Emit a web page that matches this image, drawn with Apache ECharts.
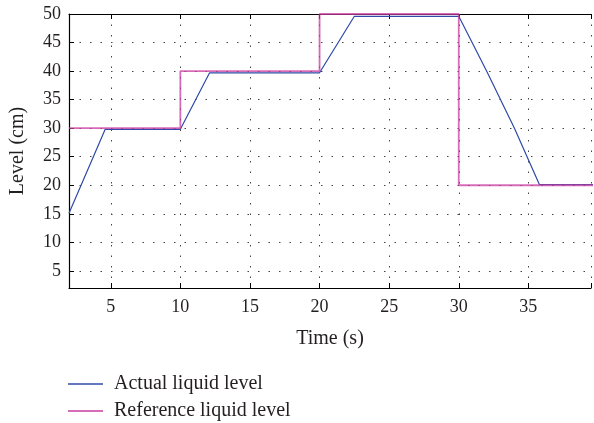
<!DOCTYPE html>
<html>
<head>
<meta charset="utf-8">
<script src="https://cdn.jsdelivr.net/npm/echarts@6/dist/echarts.min.js"></script>
<style>
  html, body { margin: 0; padding: 0; background: #fff; }
  #chart { width: 594px; height: 423px; }
</style>
</head>
<body>
<div id="chart"></div>
<script>
// Measured tank level (cm) over time (s)
const actualTime  = [2.0, 4.6, 10.0, 12.1, 20.0, 22.5, 30.0, 32.0, 34.0, 35.8, 40.0];
const actualLevel = [15.1, 29.8, 29.8, 39.7, 39.7, 49.6, 49.6, 40.0, 30.0, 20.1, 20.1];

// Set-point (step reference) level (cm) over time (s)
const refTime  = [2, 10, 10, 20, 20, 30, 30, 40];
const refLevel = [30, 30, 40, 40, 50, 50, 20, 20];

const seriesNames = ['Actual liquid level', 'Reference liquid level'];
const xTickLabels = [5, 10, 15, 20, 25, 30, 35];
const yTickLabels = [5, 10, 15, 20, 25, 30, 35, 40, 45, 50];

const FONT = '"Liberation Serif", "Times New Roman", serif';
const TEXT = '#231f20';

const pairs = (xs, ys) => xs.map((x, i) => [x, ys[i]]);
const gridDots = { type: [1.5, 9], color: '#444', width: 1 };

const chart = echarts.init(document.getElementById('chart'), null, { renderer: 'canvas' });
chart.setOption({
  animation: false,
  backgroundColor: '#fff',
  grid: { left: 67, top: 14, right: 0, bottom: 135 },
  legend: {
    left: 68, top: 374, orient: 'vertical',
    icon: 'rect', itemWidth: 35, itemHeight: 1.5, itemGap: 7, padding: 0,
    textStyle: { fontFamily: FONT, fontSize: 20, color: TEXT, padding: [0, 0, 0, 6] },
    data: seriesNames
  },
  xAxis: [{
    type: 'value', min: 2, max: 39.5, splitNumber: 8,
    name: 'Time (s)', nameLocation: 'middle', nameGap: 41,
    nameTextStyle: { fontFamily: FONT, fontSize: 20, color: TEXT },
    axisLine: { onZero: false, lineStyle: { color: '#000', width: 1.2 } },
    axisTick: { inside: true, length: 5, lineStyle: { color: '#000' } },
    axisLabel: {
      fontFamily: FONT, fontSize: 18, color: TEXT, margin: 10,
      formatter: v => xTickLabels.includes(v) ? String(v) : ''
    },
    splitLine: { show: true, lineStyle: gridDots }
  }, {
    type: 'value', min: 2, max: 39.5, splitNumber: 8, position: 'top',
    axisLine: { show: true, onZero: false, lineStyle: { color: '#000', width: 1.2 } },
    axisTick: { inside: true, length: 5, lineStyle: { color: '#000' } },
    axisLabel: { show: false }, splitLine: { show: false }
  }],
  yAxis: [{
    type: 'value', min: 2, max: 50, splitNumber: 10,
    name: 'Level (cm)', nameLocation: 'middle', nameGap: 41,
    nameTextStyle: { fontFamily: FONT, fontSize: 20, color: TEXT },
    axisLine: { show: true, onZero: false, lineStyle: { color: '#000', width: 1.2 } },
    axisTick: { show: true, inside: true, length: 5, lineStyle: { color: '#000' } },
    axisLabel: {
      fontFamily: FONT, fontSize: 18, color: TEXT, margin: 8,
      formatter: v => yTickLabels.includes(v) ? String(v) : ''
    },
    splitLine: { show: true, lineStyle: gridDots }
  }],
  series: [{
    name: seriesNames[0], type: 'line', symbol: 'none',
    data: pairs(actualTime, actualLevel),
    itemStyle: { color: '#2f4aa8' },
    lineStyle: { color: '#2f4aa8', width: 1.2 },
    z: 3
  }, {
    name: seriesNames[1], type: 'line', symbol: 'none',
    data: pairs(refTime, refLevel),
    itemStyle: { color: '#c83a9f' },
    lineStyle: { color: '#c83a9f', width: 1.8, opacity: 0.75 },
    z: 4
  }]
});
</script>
</body>
</html>
